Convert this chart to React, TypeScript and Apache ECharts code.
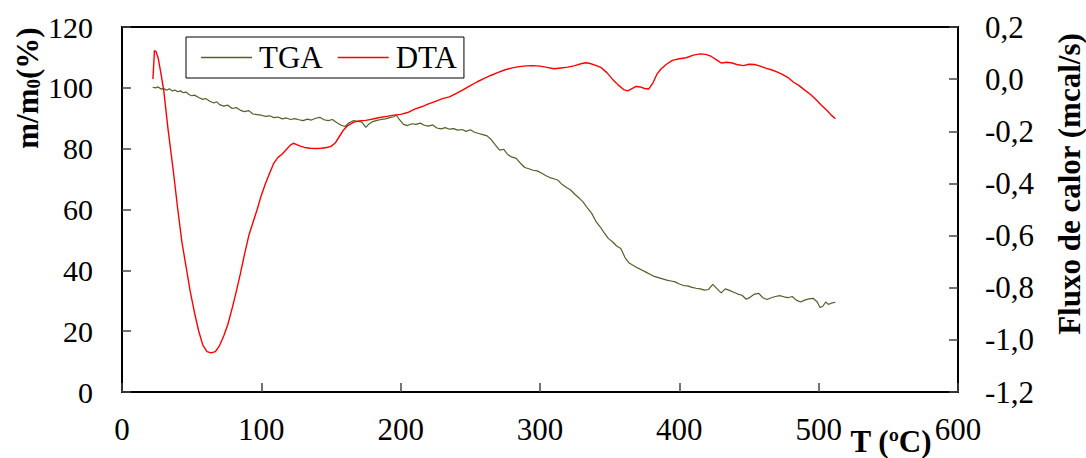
import React, { useEffect, useRef } from "react";
import * as echarts from "echarts";

const xTicks = [0, 100, 200, 300, 400, 500, 600];
const leftTicks = [0, 20, 40, 60, 80, 100, 120];
const rightTicks = [-1.2, -1.0, -0.8, -0.6, -0.4, -0.2, 0.0, 0.2];
const seriesNames = ["TGA", "DTA"];

const tgaTemps = [22, 24, 26, 28, 30, 32, 34, 36, 38, 40, 42, 44, 46, 48, 50, 52, 55, 58, 60, 63, 66, 68, 70, 73, 76, 79, 82, 85, 88, 91, 94, 97, 100, 103, 106, 109, 112, 115, 118, 121, 124, 127, 130, 133, 136, 139, 142, 145, 148, 151, 154, 157, 160, 163, 166, 169, 172, 175, 177, 180, 183, 186, 189, 192, 195, 197, 199, 202, 205, 208, 211, 214, 217, 220, 223, 226, 229, 232, 235, 238, 241, 244, 247, 250, 253, 256, 259, 262, 265, 268, 271, 274, 277, 280, 283, 286, 289, 292, 295, 298, 301, 304, 307, 310, 313, 316, 319, 322, 325, 328, 331, 334, 337, 340, 343, 346, 349, 352, 355, 358, 361, 364, 367, 370, 373, 376, 379, 382, 385, 388, 391, 394, 397, 400, 403, 406, 409, 412, 415, 418, 421, 424, 427, 430, 433, 436, 439, 442, 445, 448, 451, 454, 457, 460, 463, 466, 469, 472, 475, 478, 481, 484, 487, 490, 493, 496, 499, 501, 503, 505, 507, 509, 512];
const tgaMass = [100.2, 100.0, 100.3, 99.6, 99.8, 99.2, 99.7, 99.0, 99.3, 98.7, 99.0, 98.4, 98.6, 97.8, 97.4, 97.6, 96.8, 96.2, 96.5, 95.6, 95.0, 95.4, 94.5, 94.0, 94.3, 93.2, 93.5, 92.6, 92.2, 92.5, 91.4, 91.2, 91.0, 90.6, 90.8, 90.2, 90.4, 89.8, 90.1, 89.6, 89.9, 89.5, 89.2, 89.7, 89.4, 90.0, 90.3, 89.5, 89.2, 89.6, 88.6, 87.8, 87.3, 88.5, 89.2, 89.0, 88.8, 87.0, 88.0, 88.9, 89.3, 89.6, 89.8, 90.2, 90.5, 91.0, 89.6, 88.0, 87.6, 88.2, 88.0, 88.4, 87.7, 87.4, 87.8, 86.8, 86.5, 86.9, 86.4, 86.6, 86.1, 86.3, 85.7, 86.2, 85.4, 85.0, 84.6, 84.2, 83.0, 81.2, 79.5, 79.8, 78.0, 77.2, 76.8, 75.2, 73.8, 73.4, 72.9, 72.7, 72.0, 71.2, 70.5, 70.1, 69.6, 68.2, 67.2, 66.4, 65.0, 63.8, 62.4, 60.5, 58.8, 56.2, 54.4, 52.4, 50.5, 49.4, 48.0, 47.2, 44.2, 42.4, 41.6, 40.8, 40.1, 39.4, 38.7, 38.0, 37.6, 37.2, 36.8, 36.5, 36.2, 35.5, 35.0, 34.9, 34.4, 34.1, 33.9, 33.5, 33.7, 35.4, 34.0, 32.6, 33.9, 33.4, 32.8, 32.2, 31.8, 30.5, 31.2, 32.2, 32.4, 31.0, 30.4, 31.0, 31.4, 31.7, 31.3, 31.0, 31.4, 30.2, 29.6, 30.2, 30.6, 30.8, 29.6, 27.8, 28.2, 29.6, 28.8, 29.2, 29.5];

const dtaTemps = [22.2, 23.3, 24.5, 26, 28, 30, 33, 37, 40, 43, 46, 49, 52, 55, 58, 61, 64, 67, 70, 73, 76, 79, 82, 85, 88, 91, 94, 97, 100, 103, 106, 109, 112, 115, 118, 121, 123, 125, 128, 131, 135, 139, 143, 147, 150, 153, 156, 159, 162, 166, 170, 175, 180, 185, 190, 195, 200, 205, 210, 215, 220, 225, 230, 235, 240, 245, 250, 255, 260, 265, 270, 275, 280, 285, 290, 295, 300, 305, 310, 315, 320, 325, 330, 333, 336, 340, 344, 348, 352, 356, 360, 363, 366, 369, 372, 375, 378, 381, 384, 387, 391, 395, 400, 405, 410, 415, 419, 423, 427, 430, 434, 438, 442, 446, 450, 454, 458, 462, 466, 470, 474, 478, 482, 486, 490, 494, 498, 502, 506, 509, 512];
const dtaFlow = [0.0, 0.11, 0.105, 0.08, 0.02, -0.045, -0.19, -0.36, -0.498, -0.625, -0.72, -0.815, -0.895, -0.965, -1.02, -1.045, -1.05, -1.045, -1.022, -0.985, -0.94, -0.88, -0.815, -0.745, -0.67, -0.6, -0.55, -0.5, -0.445, -0.4, -0.36, -0.322, -0.3, -0.287, -0.27, -0.252, -0.246, -0.25, -0.257, -0.262, -0.265, -0.266, -0.265, -0.262, -0.258, -0.245, -0.22, -0.195, -0.178, -0.166, -0.16, -0.158, -0.153, -0.147, -0.143, -0.138, -0.135, -0.128, -0.115, -0.106, -0.095, -0.085, -0.075, -0.068, -0.055, -0.04, -0.025, -0.01, 0.003, 0.015, 0.026, 0.036, 0.043, 0.048, 0.051, 0.052, 0.05, 0.045, 0.04, 0.043, 0.046, 0.052, 0.06, 0.063, 0.06, 0.053, 0.044, 0.025, 0.0, -0.022, -0.04, -0.045, -0.036, -0.028, -0.03, -0.036, -0.038, -0.015, 0.02, 0.04, 0.058, 0.072, 0.078, 0.082, 0.092, 0.097, 0.095, 0.087, 0.073, 0.062, 0.065, 0.062, 0.055, 0.052, 0.057, 0.056, 0.05, 0.042, 0.036, 0.028, 0.018, 0.006, -0.012, -0.025, -0.042, -0.058, -0.078, -0.1, -0.12, -0.138, -0.152];

const FONT = "'Liberation Serif', 'Times New Roman', serif";
const TGA_COLOR = "#4f6228";
const DTA_COLOR = "#ff0000";

export default function App() {
  const ref = useRef<HTMLDivElement>(null);
  useEffect(() => {
    document.body.style.margin = "0";
    if (!ref.current) return;
    const chart = echarts.init(ref.current, null, { renderer: "svg" });
    const tickStyle = { show: true, inside: true, length: 9, lineStyle: { color: "#444", width: 1.5 } };
    chart.setOption({
      animation: false,
      backgroundColor: "#fff",
      grid: { left: 122, right: 128, top: 27, bottom: 66, show: true, borderColor: "#000", borderWidth: 2, backgroundColor: "transparent" },
      legend: {
        data: seriesNames,
        left: 186,
        top: 37,
        icon: "path://M0,0L51,0L51,1.3L0,1.3Z",
        itemWidth: 51,
        itemHeight: 1.3,
        itemGap: 15,
        padding: [5, 7, 5, 15],
        borderColor: "#000",
        borderWidth: 1,
        textStyle: { fontFamily: FONT, fontSize: 31, color: "#000", padding: [0, 0, 0, 2] },
      },
      xAxis: {
        type: "value",
        min: xTicks[0],
        max: xTicks[xTicks.length - 1],
        interval: 100,
        axisLine: { show: true, lineStyle: { color: "#000", width: 2 } },
        axisTick: tickStyle,
        splitLine: { show: false },
        axisLabel: { fontFamily: FONT, fontSize: 31, color: "#000", margin: 22, showMinLabel: true, showMaxLabel: true },
      },
      yAxis: [
        {
          type: "value",
          position: "left",
          min: leftTicks[0],
          max: leftTicks[leftTicks.length - 1],
          interval: 20,
          axisLine: { show: true, lineStyle: { color: "#000", width: 2 } },
          axisTick: tickStyle,
          splitLine: { show: false },
          axisLabel: { fontFamily: FONT, fontSize: 30, color: "#000", margin: 29 },
        },
        {
          type: "value",
          position: "right",
          min: rightTicks[0],
          max: rightTicks[rightTicks.length - 1],
          interval: 0.2,
          axisLine: { show: true, lineStyle: { color: "#000", width: 2 } },
          axisTick: tickStyle,
          splitLine: { show: false },
          axisLabel: {
            fontFamily: FONT,
            fontSize: 31,
            color: "#000",
            margin: 27,
            formatter: (v: number) => (Math.abs(v) < 1e-9 ? 0 : v).toFixed(1).replace(".", ","),
          },
        },
      ],
      series: [
        {
          name: seriesNames[0],
          type: "line",
          yAxisIndex: 0,
          symbol: "none",
          data: tgaTemps.map((t, i) => [t, tgaMass[i]]),
          lineStyle: { color: TGA_COLOR, width: 1.2 },
          itemStyle: { color: TGA_COLOR },
        },
        {
          name: seriesNames[1],
          type: "line",
          yAxisIndex: 1,
          symbol: "none",
          data: dtaTemps.map((t, i) => [t, dtaFlow[i]]),
          lineStyle: { color: DTA_COLOR, width: 1.4 },
          itemStyle: { color: DTA_COLOR },
        },
      ],
      graphic: [
        {
          type: "text",
          x: 27,
          y: 88,
          rotation: Math.PI / 2,
          style: {
            text: "{a|m/m}{b|0}{a|(%)}",
            align: "center",
            verticalAlign: "middle",
            textAlign: "center",
            textVerticalAlign: "middle",
            fill: "#000",
            rich: {
              a: { fontFamily: FONT, fontSize: 31, fontWeight: "bold", fill: "#000", color: "#000", lineHeight: 31, verticalAlign: "top" },
              b: { fontFamily: FONT, fontSize: 19, fontWeight: "bold", fill: "#000", color: "#000", lineHeight: 19, padding: [12, 0, 0, 0], verticalAlign: "top" },
            },
          },
        },
        {
          type: "text",
          x: 1069,
          y: 184,
          rotation: Math.PI / 2,
          style: {
            text: "Fluxo de calor (mcal/s)",
            fontFamily: FONT,
            fontSize: 31,
            fontWeight: "bold",
            fill: "#000",
            align: "center",
            verticalAlign: "middle",
            textAlign: "center",
            textVerticalAlign: "middle",
          },
        },
        {
          type: "text",
          x: 891,
          y: 441,
          style: {
            text: "T (ºC)",
            fontFamily: FONT,
            fontSize: 31,
            fontWeight: "bold",
            fill: "#000",
            align: "center",
            verticalAlign: "middle",
            textAlign: "center",
            textVerticalAlign: "middle",
          },
        },
      ],
    });
    return () => chart.dispose();
  }, []);
  return <div ref={ref} style={{ width: 1086, height: 458 }} />;
}
